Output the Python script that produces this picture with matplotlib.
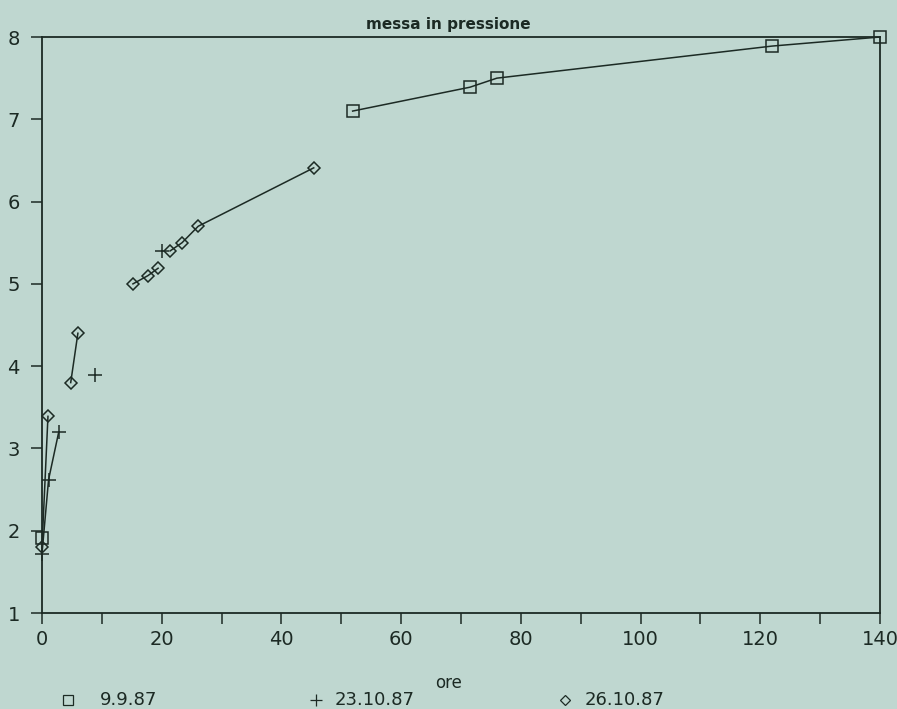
import matplotlib
matplotlib.use("Agg")
import matplotlib.pyplot as plt
from matplotlib.lines import Line2D
import numpy as np

# --- Data; NaN breaks a line between groups ---
x_sq = [0, np.nan, 51.9, 71.5, 76.0, 122.0, 140]
y_sq = [1.91, np.nan, 7.10, 7.39, 7.50, 7.89, 8.00]

x_plus = [0, 1.1, 2.8, np.nan, 8.9, np.nan, 20.0]
y_plus = [1.72, 2.62, 3.20, np.nan, 3.89, np.nan, 5.40]

x_dia = [0, 1.0, np.nan, 4.8, 6.0, np.nan, 15.2, 17.7, 19.4, np.nan, 21.4, 23.4, 26.1, 45.4]
y_dia = [1.80, 3.39, np.nan, 3.80, 4.40, np.nan, 5.00, 5.10, 5.19, np.nan, 5.40, 5.50, 5.70, 6.41]

series_labels = ["9.9.87", "23.10.87", "26.10.87"]

bg = "#bfd7d0"
ink = "#1c2a24"

plt.rcParams['font.family'] = ['DejaVu Sans']

fig = plt.figure(figsize=(8.97, 7.09), dpi=100)
fig.patch.set_facecolor(bg)
ax = fig.add_axes([0.0468, 0.1354, 0.9342, 0.8124])
ax.set_facecolor(bg)

ax.plot(x_sq, y_sq, color=ink, lw=1.1, marker="s", ms=8.5, mfc="none", mec=ink, mew=1.1, clip_on=False)
ax.plot(x_plus, y_plus, color=ink, lw=1.1, marker="+", ms=10, mec=ink, mew=1.1, clip_on=False)
ax.plot(x_dia, y_dia, color=ink, lw=1.1, marker="D", ms=6.5, mfc="none", mec=ink, mew=1.1, clip_on=False)

ax.set_xlim(0, 140)
ax.set_ylim(1, 8)
ax.set_xticks(np.arange(0, 141, 20))
ax.set_xticks(np.arange(10, 140, 20), minor=True)
ax.set_yticks(np.arange(1, 9, 1))
ax.tick_params(axis="both", direction="out", length=8, width=1.1, color=ink,
               labelsize=14, labelcolor=ink)
ax.tick_params(axis="x", which="minor", direction="out", length=8, width=1.1, color=ink)
ax.tick_params(axis="y", pad=8)
ax.tick_params(axis="x", pad=4)
for s in ax.spines.values():
    s.set_color(ink)
    s.set_linewidth(1.3)

# --- Text ---
fig.text(0.5, 1 - 24 / 709, "messa in pressione", ha="center", va="center",
         fontsize=11, fontweight="bold", color=ink)
fig.text(449 / 897, 1 - 683 / 709, "ore", ha="center", va="center",
         fontsize=12, color=ink)

# --- Legend row at the bottom ---
leg_y = 1 - 700 / 709
leg_marks = [("s", 68, 100), ("+", 316, 335), ("D", 565, 585)]
for (mk, mx, tx), lab in zip(leg_marks, series_labels):
    ms = {"s": 6.5, "+": 8, "D": 5}[mk]
    fig.add_artist(Line2D([mx / 897], [leg_y], transform=fig.transFigure,
                          marker=mk, ms=ms, mfc="none", mec=ink, mew=0.9, ls="none"))
    fig.text(tx / 897, leg_y, lab, ha="left", va="center", fontsize=13, color=ink)

fig.savefig("out.png", dpi=100, facecolor=bg)
